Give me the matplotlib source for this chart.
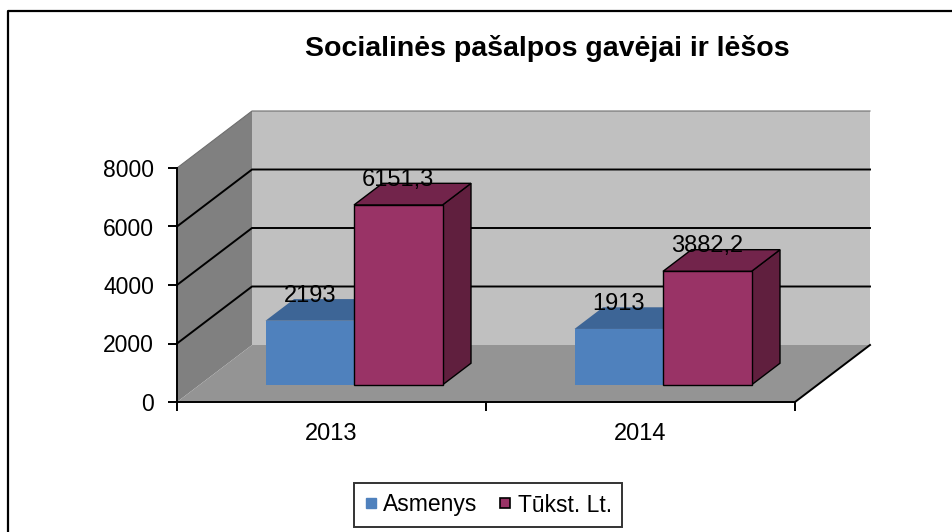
import matplotlib
matplotlib.use("Agg")
import matplotlib.pyplot as plt
from matplotlib.patches import Polygon
from matplotlib.lines import Line2D

plt.rcParams['font.family'] = ['Liberation Sans', 'DejaVu Sans']

# data
years = ["2013", "2014"]
series_names = ["Asmenys", "Tūkst. Lt."]
asmenys = [2193, 1913]
tukst_lt = [6151.3, 3882.2]
yticks = [0, 2000, 4000, 6000, 8000]

TITLE = "Socialinės pašalpos gavėjai ir lėšos"

# colours: (front, top, side)
COLORS = [("#4F81BD", "#3D6596", "#345783"),
          ("#993366", "#72244B", "#601F3E")]

# layout in pixels (figure 952x532)
W, H = 952, 532
PX_CAT = 309.0        # pixels per category on the front plane
PX_VAL = 0.02925      # pixels per value unit
X0_PX, Y0_PX = 177, 402
XLIM = (-0.3, 2.4)
YLIM = (-1500, 10300)

DX = 75 / PX_CAT      # depth of the box, in data units
DY = 57 / PX_VAL
F0, F1 = 0.30, 0.68   # bar front / back depth fractions
BAR_W = 88.5 / PX_CAT
YMAX = yticks[-1]
NCAT = len(years)


def poly(ax, pts, fc, ec="none", lw=0, z=1):
    ax.add_patch(Polygon(pts, closed=True, facecolor=fc, edgecolor=ec,
                         linewidth=lw, zorder=z, joinstyle="miter"))


fig = plt.figure(figsize=(W / 100, H / 100), dpi=100)
left = (X0_PX + XLIM[0] * PX_CAT) / W
right = (X0_PX + XLIM[1] * PX_CAT) / W
bottom = 1 - (Y0_PX - YLIM[0] * PX_VAL) / H
top = 1 - (Y0_PX - YLIM[1] * PX_VAL) / H
ax = fig.add_axes([left, bottom, right - left, top - bottom])
ax.set_xlim(*XLIM)
ax.set_ylim(*YLIM)
ax.patch.set_visible(False)

# walls and floor
poly(ax, [(DX, DY), (NCAT + DX, DY), (NCAT + DX, YMAX + DY), (DX, YMAX + DY)],
     "#C0C0C0", z=1)
poly(ax, [(0, 0), (DX, DY), (DX, YMAX + DY), (0, YMAX)], "#808080", z=1)
poly(ax, [(0, 0), (NCAT, 0), (NCAT + DX, DY), (DX, DY)], "#949494", z=1)

# gridlines on side and back walls
for v in yticks[1:-1]:
    ax.plot([0, DX, NCAT + DX], [v, v + DY, v + DY], color="black",
            lw=1.4, zorder=2, solid_joinstyle="miter")
ax.plot([0, DX, NCAT + DX], [YMAX, YMAX + DY, YMAX + DY], color="#6E6E6E",
        lw=0.8, zorder=2)
# floor edges
ax.plot([0, NCAT, NCAT + DX], [0, 0, DY], color="black", lw=1.4, zorder=2)

# bars
z = 3
for i in range(NCAT):
    c = i + 0.5
    for j, vals in enumerate([asmenys, tukst_lt]):
        v = vals[i]
        front, topc, side = COLORS[j]
        ec, lw = ("none", 0) if j == 0 else ("black", 1.0)
        xl = c - BAR_W + j * BAR_W
        xr = xl + BAR_W
        ox0, oy0 = F0 * DX, F0 * DY
        ox1, oy1 = F1 * DX, F1 * DY
        poly(ax, [(xr + ox0, oy0), (xr + ox1, oy1), (xr + ox1, v + oy1),
                  (xr + ox0, v + oy0)], side, ec, lw, z)
        poly(ax, [(xl + ox0, v + oy0), (xr + ox0, v + oy0), (xr + ox1, v + oy1),
                  (xl + ox1, v + oy1)], topc, ec, lw, z)
        poly(ax, [(xl + ox0, oy0), (xr + ox0, oy0), (xr + ox0, v + oy0),
                  (xl + ox0, v + oy0)], front, ec, lw, z)
        z += 1
        ax.text((xl + xr) / 2 + ox0, v + oy1 + 110,
                f"{v:g}".replace(".", ","), ha="center", va="center",
                fontsize=17, zorder=20)

# axes
for s in ["top", "right"]:
    ax.spines[s].set_visible(False)
ax.spines["left"].set_position(("data", 0))
ax.spines["left"].set_bounds(0, YMAX)
ax.spines["bottom"].set_position(("data", 0))
ax.spines["bottom"].set_bounds(0, NCAT)
ax.spines["bottom"].set_visible(False)
ax.spines["left"].set_linewidth(1.4)
ax.spines["left"].set_zorder(5)
ax.set_yticks(yticks)
ax.set_yticklabels([str(t) for t in yticks])
ax.tick_params(axis="y", direction="out", length=6.5, width=1.4,
               labelsize=16.5, pad=10)
ax.set_xticks(range(NCAT + 1))
ax.set_xticklabels([])
ax.tick_params(axis="x", which="major", direction="out", length=6.5, width=1.4)
ax.set_xticks([i + 0.5 for i in range(NCAT)], minor=True)
ax.set_xticklabels(years, minor=True)
ax.tick_params(axis="x", which="minor", length=0, labelsize=17, pad=15)

# title
fig.text(547 / W, 1 - 56 / H, TITLE, ha="center", va="baseline",
         fontsize=20.5, fontweight="bold")

# legend
handles = [Line2D([], [], ls="none", marker="s", markersize=7,
                  markerfacecolor=COLORS[0][0], markeredgecolor=COLORS[0][0]),
           Line2D([], [], ls="none", marker="s", markersize=7,
                  markerfacecolor=COLORS[1][0], markeredgecolor="black",
                  markeredgewidth=1.2)]
leg = fig.legend(handles, series_names, loc="center",
                 bbox_to_anchor=(488 / W, 1 - 505 / H), ncol=2,
                 fontsize=16.5, frameon=True, fancybox=False,
                 handlelength=0.6, handletextpad=0.25, columnspacing=0.9,
                 borderpad=0.45)
leg.get_frame().set_edgecolor("black")
leg.get_frame().set_linewidth(1.4)

# outer frame (left and top edges only)
fig.add_artist(Line2D([8 / W, 8 / W, 1], [0, 1 - 11 / H, 1 - 11 / H],
                      transform=fig.transFigure, color="black", lw=1.6))

fig.savefig("out.png", dpi=100)
